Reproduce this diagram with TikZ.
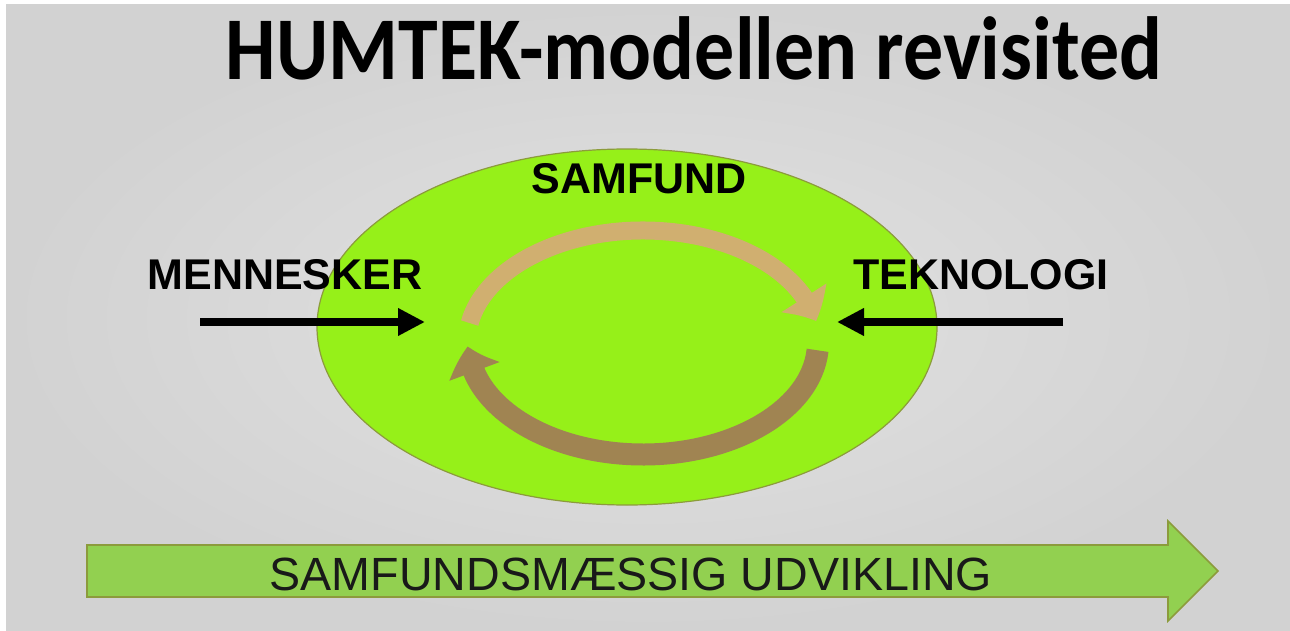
\documentclass[tikz,border=0pt]{standalone}
\usepackage{fontspec}
\setmainfont{Liberation Sans}
\newfontfamily\hmTitleFace{Carlito}
\usetikzlibrary{arrows.meta,bending,calc,shapes.geometric}
\newcommand{\hmTitleFont}{\hmTitleFace\bfseries\fontsize{40}{44}\selectfont}
\newcommand{\hmWordFont}{\bfseries\fontsize{21.5}{24}\selectfont}
\newcommand{\hmBandFont}{\fontsize{23.3}{26}\selectfont}
\definecolor{hmbg}{RGB}{210,210,210}
\definecolor{hmbglight}{RGB}{226,226,226}
\definecolor{hmlime}{RGB}{150,240,25}
\definecolor{hmolive}{RGB}{140,155,60}
\definecolor{hmgreen}{RGB}{146,208,80}
\definecolor{hmtanlight}{RGB}{208,175,112}
\definecolor{hmtandark}{RGB}{160,132,82}
\tikzset{
  %% one unit = one pixel of the slide, y counted downwards
  hmtitle/.style={font=\hmTitleFont, inner sep=0pt, anchor=base, text=black},
  hmword/.style={font=\hmWordFont, inner sep=0pt, anchor=base, text=black},
  %% the society ellipse that holds the cycle
  hmring/.style={ellipse, draw=hmolive, line width=0.6pt, fill=hmlime,
    inner sep=0pt},
  %% the two pushes from outside into the cycle
  hmpush/.style={-{Triangle[width=13pt,length=13.5pt]}, draw=black,
    line width=4pt},
  %% the two curved arrows of the cycle; argument is the fill colour
  hmcycle/.style={-{Triangle[width=26pt,length=13pt,bend]}, draw=#1},
  hmband/.style={fill=hmgreen, draw=hmolive, line width=0.8pt,
    line join=miter},
  hmbandtxt/.style={font=\hmBandFont, inner sep=0pt, anchor=base,
    text=black!90},
}

\begin{document}
\begin{tikzpicture}[x=0.5pt, y=-0.5pt]

\useasboundingbox (0,0) rectangle (1290,631);

%% --- slide background ---------------------------------------------
\shade[inner color=hmbglight, outer color=hmbg] (6,5) rectangle (1290,631);

%% --- title ---------------------------------------------------------
\node[hmtitle] (title) at (694,80)
  {\scalebox{1}[1.12]{HUMTEK-modellen revisited}};

%% --- society and its inner cycle -----------------------------------
\node[hmring, minimum width=310pt, minimum height=178pt] (ring) at (627,327) {};
\node[hmword] (samfund) at (639,193) {SAMFUND};

\coordinate (cyc) at (643,342.5);
\draw[hmcycle=hmtanlight, line width=9pt] ($(cyc)+(190:176 and 112)$)
  arc[start angle=190, end angle=349, x radius=176, y radius=112];
\draw[hmcycle=hmtandark, line width=11pt] ($(cyc)+(4:175 and 112)$)
  arc[start angle=4, end angle=178, x radius=175, y radius=112];

%% --- people and technology push in from the sides ------------------
\node[hmword] (mennesker) at (285,289) {MENNESKER};
\node[hmword] (teknologi) at (981,289) {TEKNOLOGI};

\coordinate (mTail) at (200,322);
\coordinate (mHead) at (425,322);
\coordinate (tTail) at (1063,322);
\coordinate (tHead) at (837,322);
\draw[hmpush] (mTail) -- (mHead);
\draw[hmpush] (tTail) -- (tHead);

%% --- development band along the bottom -----------------------------
\draw[hmband] (87,545) -- (1168,545) -- (1168,521) -- (1218,571)
  -- (1168,621) -- (1168,597) -- (87,597) -- cycle;
\node[hmbandtxt] (udvikling) at (631,590) {SAMFUNDSMÆSSIG UDVIKLING};

\end{tikzpicture}
\end{document}
